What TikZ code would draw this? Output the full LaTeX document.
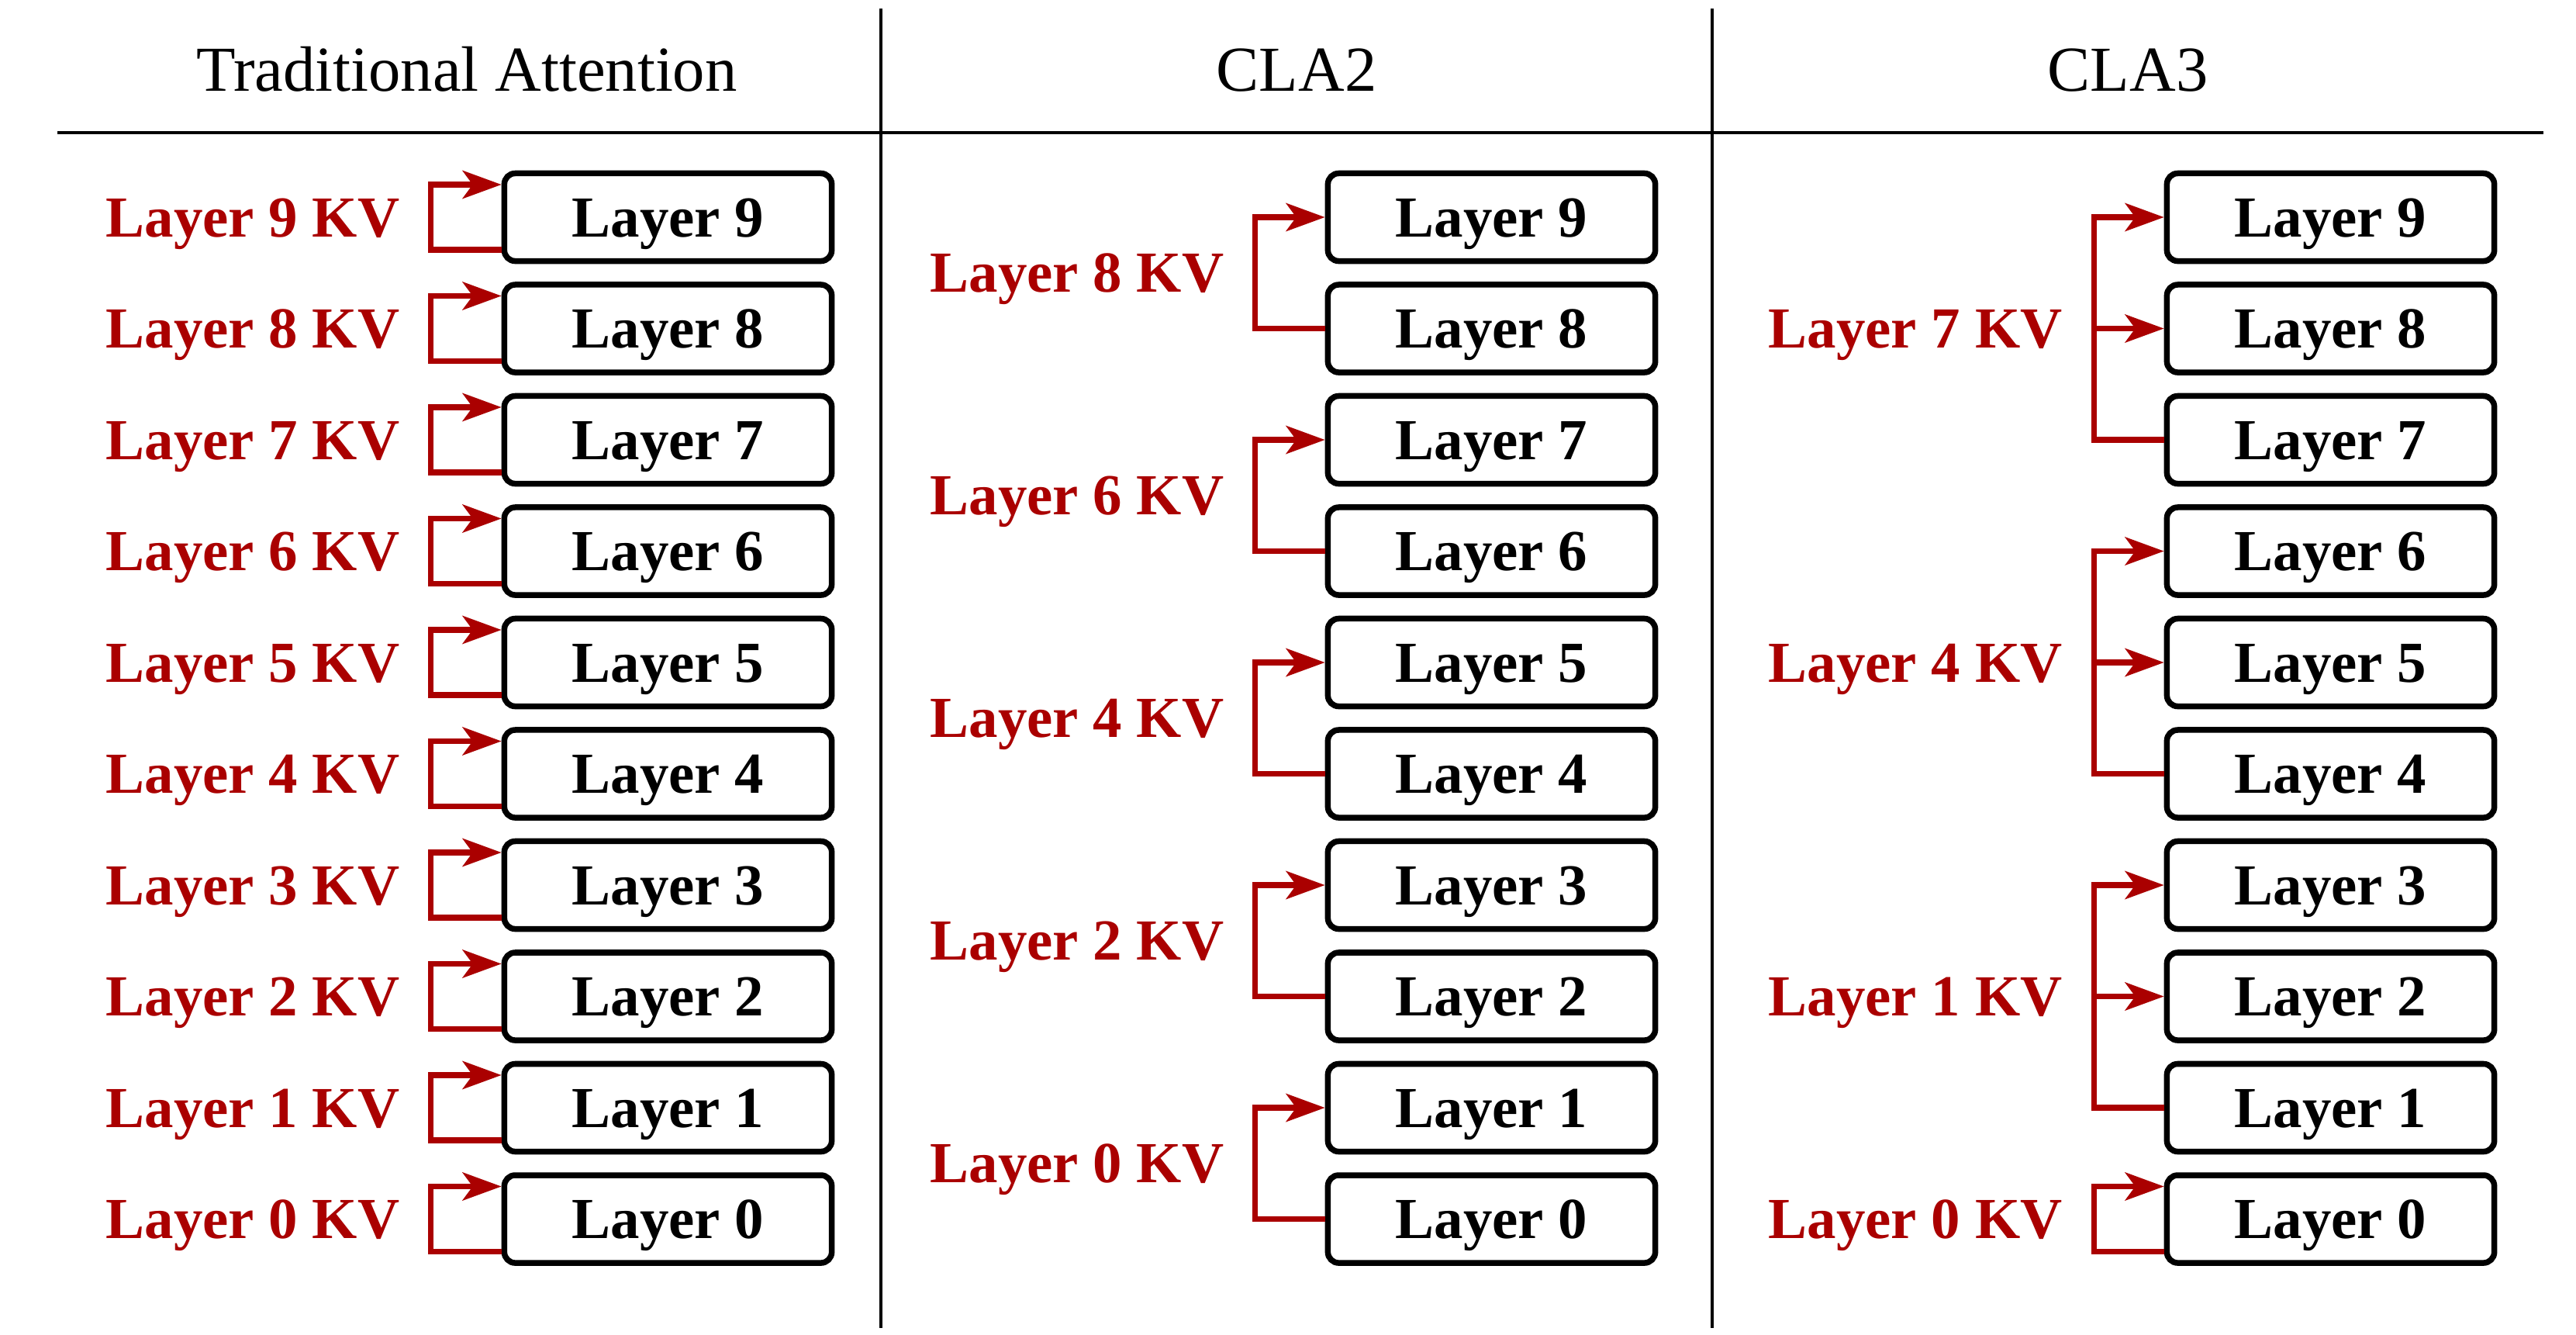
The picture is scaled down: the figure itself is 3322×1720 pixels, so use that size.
\documentclass[tikz,border=0pt]{standalone}
\usepackage{fontspec}
\setmainfont{Liberation Serif}
\usetikzlibrary{arrows.meta,calc}
\definecolor{kvred}{RGB}{170,0,0}
\tikzset{
  layerbox/.style={draw, line width=0.075cm, rounded corners=0.14cm,
    minimum width=4.22cm, minimum height=1.13cm, inner sep=0pt,
    font=\fontsize{21.3}{24}\selectfont\bfseries, text height=0.5cm, text depth=0pt},
  kvlabel/.style={text=kvred, anchor=east, inner sep=0pt,
    font=\fontsize{21.3}{24}\selectfont\bfseries, text height=0.5cm, text depth=0pt},
  kvline/.style={draw=kvred, line width=0.075cm},
  kvarrow/.style={kvline, -{Stealth[length=0.5cm,width=0.36cm,inset=0.13cm]}},
  header/.style={font=\fontsize{23.5}{26}\selectfont, anchor=base, inner sep=0pt},
  hrule/.style={line width=1.1pt},
  vrule/.style={line width=0.9pt}
}
\begin{document}
\begin{tikzpicture}[x=0.01cm,y=-0.01cm]
\useasboundingbox (0,0) rectangle (3322,1720);
% headers and rules
\node[header] (h1) at (602,117) {Traditional Attention};
\node[header] (h2) at (1672,117) {CLA2};
\node[header] (h3) at (2744,117) {CLA3};
\draw[hrule] (74,171) -- (3280,171);
\draw[vrule] (1136,11) -- (1136,1712);
\draw[vrule] (2208,11) -- (2208,1712);
% boxes
\foreach \i [count=\k from 0] in {9,8,7,6,5,4,3,2,1,0} {
  \node[layerbox] (t\i) at (861.5,{280+143.5*\k}) {Layer \i};
  \node[layerbox] (c\i) at (1923.5,{280+143.5*\k}) {Layer \i};
  \node[layerbox] (d\i) at (3005.5,{280+143.5*\k}) {Layer \i};
  % traditional: self loops
  \node[kvlabel] (tl\i) at (516,{280+143.5*\k}) {Layer \i{} KV};
  \draw[kvarrow] ([yshift=-0.42cm]t\i.west) -- ++(-91,0) |- ([yshift=0.42cm]t\i.west);
}
% CLA2
\coordinate (cx) at (1579,0);
\foreach \a/\b in {9/8,7/6,5/4,3/2,1/0} {
  \draw[kvarrow] (c\b.west) -- ++(-90,0) |- (c\a.west);
  \path (c\a.center) -- (c\b.center) coordinate[pos=0.5] (m\b);
  \node[kvlabel] (cl\b) at (cx |- m\b) {Layer \b{} KV};
}
% CLA3
\foreach \a/\m/\b in {9/8/7,6/5/4,3/2/1} {
  \draw[kvarrow] (d\b.west) -- ++(-90,0) coordinate (j\b) |- (d\a.west);
  \draw[kvarrow] (j\b |- d\m.west) -- (d\m.west);
}
\coordinate (dx) at (2660,0);
\node[kvlabel] (dl7) at (dx |- d8.center) {Layer 7 KV};
\node[kvlabel] (dl4) at (dx |- d5.center) {Layer 4 KV};
\node[kvlabel] (dl1) at (dx |- d2.center) {Layer 1 KV};
\node[kvlabel] (dl0) at (dx |- d0.center) {Layer 0 KV};
\draw[kvarrow] ([yshift=-0.42cm]d0.west) -- ++(-90,0) |- ([yshift=0.42cm]d0.west);
\end{tikzpicture}
\end{document}
